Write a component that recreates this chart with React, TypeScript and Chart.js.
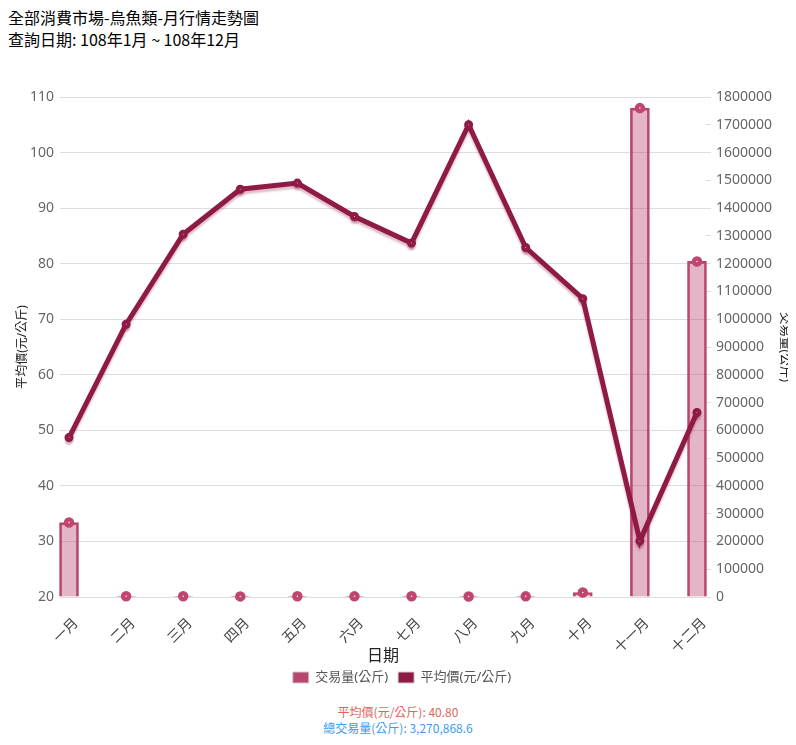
import React, { useEffect, useRef } from "react";
import { Chart, registerables } from "chart.js";

Chart.register(...registerables);

const months = ["一月", "二月", "三月", "四月", "五月", "六月", "七月", "八月", "九月", "十月", "十一月", "十二月"];
const avgPrice = [48.7, 69.1, 85.3, 93.4, 94.5, 88.5, 83.7, 105.0, 82.9, 73.7, 30.1, 53.2];
const volume = [268000, 2400, 2600, 2200, 2500, 2300, 2400, 2100, 2300, 16000, 1760000, 1208000];

const titleLine1 = "全部消費市場-烏魚類-月行情走勢圖";
const titleLine2 = "查詢日期: 108年1月 ~ 108年12月";
const avgText = "平均價(元/公斤): 40.80";
const totalText = "總交易量(公斤): 3,270,868.6";

const FONT = "'Noto Sans', 'Noto Sans CJK TC', sans-serif";
const VOL_COLOR = "#b94571";
const VOL_FILL = "rgba(185,69,113,0.4)";
const PRICE_COLOR = "#8e1a45";

const lineShadow = {
  id: "lineShadow",
  beforeDatasetDraw(chart: any, args: any) {
    if (args.index === 1) {
      const c = chart.ctx;
      c.save();
      c.shadowColor = "rgba(142,26,69,0.28)";
      c.shadowOffsetY = 3;
      c.shadowBlur = 2;
    }
  },
  afterDatasetDraw(chart: any, args: any) {
    if (args.index === 1) chart.ctx.restore();
  },
};

export default function App() {
  const ref = useRef<HTMLCanvasElement | null>(null);

  useEffect(() => {
    if (!ref.current) return;
    Chart.defaults.font.family = FONT;
    const chart = new Chart(ref.current, {
      type: "bar",
      data: {
        datasets: [
          {
            type: "bar",
            label: "交易量(公斤)",
            data: volume.map((v, i) => ({ x: i, y: v })),
            yAxisID: "y1",
            backgroundColor: VOL_FILL,
            borderColor: VOL_COLOR,
            borderWidth: 2,
            barThickness: 19,
            order: 3,
            clip: false,
            legendColor: VOL_COLOR,
          } as any,
          {
            type: "line",
            label: "平均價(元/公斤)",
            data: avgPrice.map((v, i) => ({ x: i, y: v })),
            yAxisID: "y",
            borderColor: PRICE_COLOR,
            backgroundColor: "#ffffff",
            borderWidth: 5,
            tension: 0,
            pointRadius: 2.5,
            pointBorderWidth: 4,
            pointBorderColor: PRICE_COLOR,
            pointBackgroundColor: "#ffffff",
            order: 1,
            clip: false,
            legendColor: PRICE_COLOR,
          } as any,
          {
            type: "line",
            label: "_volpoints",
            data: volume.map((v, i) => ({ x: i, y: v })),
            yAxisID: "y1",
            showLine: false,
            pointRadius: 3,
            pointBorderWidth: 4.5,
            pointBorderColor: "#c0466f",
            pointBackgroundColor: "#ffffff",
            order: 2,
            clip: false,
          } as any,
        ],
      },
      options: {
        animation: false,
        responsive: true,
        maintainAspectRatio: false,
        layout: { padding: { top: 47, bottom: 6, left: 0, right: 0 } },
        plugins: {
          tooltip: { enabled: false },
          legend: {
            position: "bottom",
            labels: {
              boxWidth: 16,
              boxHeight: 11,
              padding: 10,
              color: "#555",
              font: { size: 13, family: FONT },
              filter: (item: any) => item.datasetIndex !== 2,
              sort: (a: any, b: any) => a.datasetIndex - b.datasetIndex,
              generateLabels: (ch: any) => {
                const base = Chart.defaults.plugins.legend.labels.generateLabels(ch);
                return base.map((it: any) => {
                  const ds: any = ch.data.datasets[it.datasetIndex];
                  return {
                    ...it,
                    fillStyle: ds.legendColor || it.fillStyle,
                    strokeStyle: "#cccccc",
                    lineWidth: 1,
                    pointStyle: undefined,
                  };
                });
              },
            },
          },
        },
        scales: {
          x: {
            type: "linear",
            offset: false,
            min: -0.158,
            max: 11.158,
            grid: { display: false },
            border: { display: false },
            ticks: {
              stepSize: 1,
              includeBounds: false,
              autoSkip: false,
              maxRotation: 45,
              minRotation: 45,
              color: "#444",
              font: { size: 14 },
              padding: 10,
              labelOffset: 7,
              callback: (v: any) => months[v] ?? "",
            },
            title: {
              display: true,
              text: "日期",
              color: "#222",
              font: { size: 16, lineHeight: 1.1 },
              padding: { top: 0, bottom: -4 },
            },
            afterFit: (s: any) => {
              s.height = 64;
            },
          } as any,
          y: {
            position: "left",
            min: 20,
            max: 110,
            grid: { color: "#dddddd", drawTicks: false },
            border: { display: false },
            ticks: { stepSize: 10, color: "#666", font: { size: 14 }, padding: 6 },
            title: {
              display: true,
              text: "平均價(元/公斤)",
              color: "#222",
              font: { size: 12 },
              padding: { top: 7, bottom: 0 },
            },
            afterFit: (s: any) => {
              s.width = 52;
            },
          } as any,
          y1: {
            position: "right",
            min: 0,
            max: 1800000,
            grid: { drawOnChartArea: false, color: "#dddddd", tickLength: 5 },
            border: { display: false },
            ticks: {
              stepSize: 100000,
              color: "#666",
              font: { size: 14 },
              padding: 5,
              callback: (v: any) => String(v),
            },
            title: {
              display: true,
              text: "交易量(公斤)",
              color: "#222",
              font: { size: 12.5 },
              padding: { top: 4, bottom: 0 },
            },
            afterFit: (s: any) => {
              s.width = 90;
            },
          } as any,
        },
      },
      plugins: [lineShadow],
    });
    return () => chart.destroy();
  }, []);

  return (
    <div style={{ fontFamily: "'Noto Sans CJK TC', 'Noto Sans', sans-serif" }}>
      <div style={{ fontSize: 16, lineHeight: "22px", marginTop: -2, color: "#000" }}>
        <div>{titleLine1}</div>
        <div>{titleLine2}</div>
      </div>
      <div style={{ position: "relative", width: 788, height: 650 }}>
        <canvas ref={ref} />
      </div>
      <div style={{ textAlign: "center", fontSize: 12, lineHeight: "16px", marginTop: 4 }}>
        <div style={{ color: "#e0645a" }}>{avgText}</div>
        <div style={{ color: "#3b9cf0" }}>{totalText}</div>
      </div>
    </div>
  );
}
